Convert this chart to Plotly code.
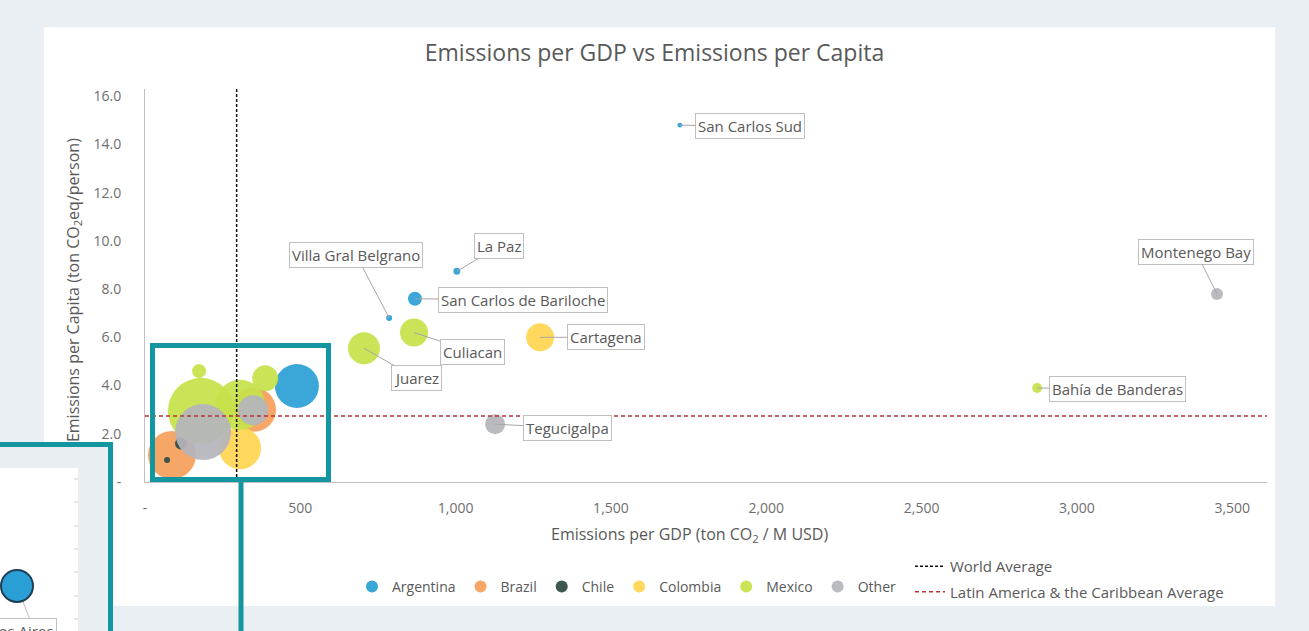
import plotly.graph_objects as go

# ---------------- data ----------------
countries = ["Argentina", "Brazil", "Chile", "Colombia", "Mexico", "Other"]
colors = {"Argentina": "#2a9fd6", "Brazil": "#f5a05a", "Chile": "#2e4a40",
          "Colombia": "#ffd54f", "Mexico": "#c5e24a", "Other": "#b4b4bc"}

arg_city = ["", "San Carlos de Bariloche", "La Paz", "Villa Gral Belgrano", "San Carlos Sud"]
arg_gdp = [489, 869, 1004, 786, 1722]
arg_cap = [3.98, 7.6, 8.74, 6.8, 14.8]
arg_pop = [484, 49, 12, 9, 6]

bra_city = ["", ""]
bra_gdp = [87, 351]
bra_cap = [1.12, 3.0]
bra_pop = [576, 484]

chi_city = ["", ""]
chi_gdp = [71, 116]
chi_cap = [0.91, 1.6]
chi_pop = [9, 36]

col_city = ["", "Cartagena"]
col_gdp = [306, 1272]
col_cap = [1.4, 6.0]
col_pop = [441, 196]

mex_city = ["", "", "", "", "Juarez", "Culiacan", "Bahía de Banderas"]
mex_gdp = [180, 174, 387, 306, 705, 866, 2872]
mex_cap = [2.95, 4.6, 4.3, 3.2, 5.55, 6.2, 3.9]
mex_pop = [1089, 49, 169, 625, 256, 196, 25]

oth_city = ["", "", "Tegucigalpa", "Montenego Bay"]
oth_gdp = [187, 348, 1127, 3451]
oth_cap = [2.07, 2.98, 2.4, 7.8]
oth_pop = [784, 225, 100, 36]

world_avg_gdp = 295
lac_avg_cap = 2.74

x_ticks = [0, 500, 1000, 1500, 2000, 2500, 3000, 3500]
x_ticktext = ["-", "500", "1,000", "1,500", "2,000", "2,500", "3,000", "3,500"]
y_ticks = [0, 2, 4, 6, 8, 10, 12, 14, 16]
y_ticktext = ["-", "2.0", "4.0", "6.0", "8.0", "10.0", "12.0", "14.0", "16.0"]

series = {
    "Argentina": (arg_city, arg_gdp, arg_cap, arg_pop),
    "Brazil": (bra_city, bra_gdp, bra_cap, bra_pop),
    "Chile": (chi_city, chi_gdp, chi_cap, chi_pop),
    "Colombia": (col_city, col_gdp, col_cap, col_pop),
    "Mexico": (mex_city, mex_gdp, mex_cap, mex_pop),
    "Other": (oth_city, oth_gdp, oth_cap, oth_pop),
}

# label offsets (pixels) for callouts
label_offsets = {
    "San Carlos Sud": (70, 1),
    "La Paz": (42, -25),
    "Villa Gral Belgrano": (-33, -63),
    "San Carlos de Bariloche": (108, 1),
    "Cartagena": (66, 0),
    "Culiacan": (58, 19),
    "Juarez": (52, 30),
    "Tegucigalpa": (72, 4),
    "Montenego Bay": (-21, -42),
    "Bahía de Banderas": (80, 1),
}

# ---------------- geometry helpers ----------------
W, H = 1309, 631
L, R, T, B = 145, 1267, 88.8, 482
XMAX = 3612
YMAX = 16.3


def PX(px):
    return (px - L) / (R - L)


def PY(py):
    return (B - py) / (B - T)


TEAL = "#1496a0"
TXT = "#595959"
FONT = "Open Sans"

fig = go.Figure()

for c in countries:
    city, gx, gy, gp = series[c]
    fig.add_trace(go.Scatter(
        x=gx, y=gy, mode="markers", name=c, text=city,
        marker=dict(size=gp, sizemode="area", sizeref=0.5, color=colors[c],
                    opacity=0.92, line=dict(width=0)),
        cliponaxis=False, legend="legend",
    ))

fig.add_trace(go.Scatter(
    x=[world_avg_gdp, world_avg_gdp], y=[0, YMAX], mode="lines",
    name="World Average", line=dict(color="#111111", width=1.5, dash="3px,2px"),
    legend="legend2", legendgroup="w", showlegend=True,
))
fig.add_trace(go.Scatter(
    x=[0, XMAX], y=[lac_avg_cap, lac_avg_cap], mode="lines",
    name="Latin America & the Caribbean Average",
    line=dict(color="#b8323c", width=1.5, dash="4px,3px"),
    legend="legend2", legendgroup="l", showlegend=True,
))

annotations = []
for c in countries:
    city, gx, gy, gp = series[c]
    for name, xv, yv in zip(city, gx, gy):
        if not name:
            continue
        ax, ay = label_offsets[name]
        annotations.append(dict(
            x=xv, y=yv, xref="x", yref="y", text=name, showarrow=True,
            arrowhead=0, arrowwidth=1, arrowcolor="#a6a6a6", ax=ax, ay=ay,
            bordercolor="#bfbfbf", borderwidth=1, borderpad=2, bgcolor="white",
            font=dict(family=FONT, size=15, color=TXT), standoff=0,
        ))

# axis titles
annotations.append(dict(
    x=PX(689), y=PY(535), xref="paper", yref="paper", showarrow=False,
    xanchor="center", yanchor="middle",
    text="Emissions per GDP (ton CO<sub>2</sub> / M USD)",
    font=dict(family=FONT, size=16, color=TXT),
))
annotations.append(dict(
    x=PX(73), y=PY(290), xref="paper", yref="paper", showarrow=False,
    xanchor="center", yanchor="middle",
    text="Emissions per Capita (ton CO<sub>2</sub>eq/person)", textangle=-90,
    font=dict(family=FONT, size=16, color=TXT),
))
# inset label (cut off)
annotations.append(dict(
    x=PX(8), y=PY(618), xref="paper", yref="paper", showarrow=False,
    xanchor="center", yanchor="top", text="Buenos Aires", bgcolor="white",
    bordercolor="#bfbfbf", borderwidth=1, borderpad=2,
    font=dict(family=FONT, size=15, color=TXT),
))

shapes = [
    # white chart panel
    dict(type="rect", xref="paper", yref="paper", x0=PX(44), x1=PX(1275),
         y0=PY(27), y1=PY(606), fillcolor="white", line=dict(width=0), layer="below"),
    # teal highlight box
    dict(type="rect", xref="paper", yref="paper", x0=PX(152.5), x1=PX(328.5),
         y0=PY(345.5), y1=PY(479.5), line=dict(color=TEAL, width=5), layer="above"),
    dict(type="line", xref="paper", yref="paper", x0=PX(241), x1=PX(241),
         y0=PY(482), y1=PY(640), line=dict(color=TEAL, width=5), layer="above"),
    # inset panel
    dict(type="rect", xref="paper", yref="paper", x0=PX(-10), x1=PX(110.5),
         y0=PY(444.5), y1=PY(640), fillcolor="#e9eef3", line=dict(width=0), layer="above"),
    dict(type="rect", xref="paper", yref="paper", x0=PX(-10), x1=PX(78),
         y0=PY(468), y1=PY(640), fillcolor="white", line=dict(width=0), layer="above"),
]
for ty in [479, 502, 526, 549, 572, 596, 619]:
    shapes.append(dict(type="line", xref="paper", yref="paper", x0=PX(74), x1=PX(78),
                       y0=PY(ty), y1=PY(ty), line=dict(color="#d0d0d0", width=1), layer="above"))
shapes += [
    dict(type="line", xref="paper", yref="paper", x0=PX(17), x1=PX(30),
         y0=PY(586), y1=PY(620), line=dict(color="#bfbfbf", width=1), layer="above"),
    dict(type="circle", xref="paper", yref="paper", x0=PX(1), x1=PX(33),
         y0=PY(570), y1=PY(602), fillcolor="#2a9fd6",
         line=dict(color="#1e3d52", width=2), layer="above"),
    dict(type="rect", xref="paper", yref="paper", x0=PX(-20), x1=PX(110.5),
         y0=PY(444.5), y1=PY(660), line=dict(color=TEAL, width=5), layer="above"),
]

fig.update_layout(
    width=W, height=H, autosize=False,
    margin=dict(l=L, r=W - R, t=T, b=H - B, pad=0),
    paper_bgcolor="#eaeff4", plot_bgcolor="rgba(0,0,0,0)",
    font=dict(family=FONT, size=12, color=TXT),
    title=dict(text="Emissions per GDP vs Emissions per Capita", x=0.5, xref="container",
               y=1 - 53 / H, yref="container", yanchor="middle", xanchor="center",
               font=dict(family=FONT, size=23, color=TXT)),
    xaxis=dict(range=[0, XMAX], tickvals=x_ticks, ticktext=x_ticktext, showgrid=False,
               zeroline=False, showline=True, linecolor="#bfbfbf", linewidth=1,
               ticks="outside", ticklen=13, tickcolor="rgba(0,0,0,0)",
               tickfont=dict(family=FONT, size=14, color="#6e6e6e")),
    yaxis=dict(range=[0, YMAX], tickvals=y_ticks, ticktext=y_ticktext, showgrid=False,
               zeroline=False, showline=True, linecolor="#bfbfbf", linewidth=1,
               ticks="outside", ticklen=20, tickcolor="rgba(0,0,0,0)",
               tickfont=dict(family=FONT, size=14, color="#6e6e6e")),
    legend=dict(orientation="h", x=PX(902), xanchor="right", y=PY(587), yanchor="middle",
                bgcolor="rgba(0,0,0,0)", itemsizing="constant", itemwidth=30,
                font=dict(family=FONT, size=14, color=TXT), traceorder="normal"),
    legend2=dict(orientation="v", x=PX(910), xanchor="left", y=PY(579), yanchor="middle",
                 bgcolor="rgba(0,0,0,0)", tracegroupgap=3,
                 font=dict(family=FONT, size=15, color=TXT)),
    annotations=annotations,
    shapes=shapes,
    showlegend=True,
)

fig.write_html("out.html", config={"displayModeBar": False},
               post_script="document.body.style.margin='0';")
